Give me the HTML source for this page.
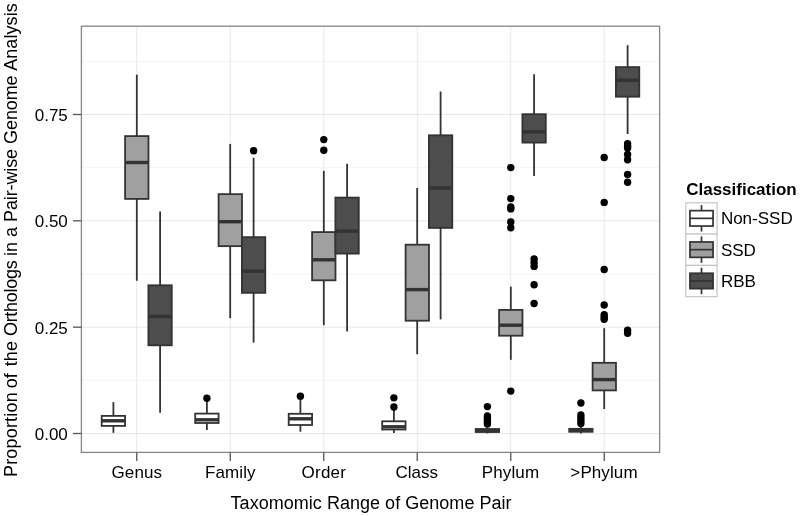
<!DOCTYPE html>
<html><head><meta charset="utf-8"><title>Boxplot</title>
<style>html,body{margin:0;padding:0;background:#fff;}svg{display:block;will-change:transform;}text{font-family:"Liberation Sans",sans-serif;fill:#000;}</style>
</head><body>
<svg width="800" height="516" viewBox="0 0 800 516">
<rect x="0" y="0" width="800" height="516" fill="#fff"/>
<g stroke="#F5F5F5" stroke-width="1" fill="none">
<line x1="81.4" x2="659.6" y1="380.33" y2="380.33"/>
<line x1="81.4" x2="659.6" y1="274.0" y2="274.0"/>
<line x1="81.4" x2="659.6" y1="167.67" y2="167.67"/>
<line x1="81.4" x2="659.6" y1="61.33" y2="61.33"/>
</g>
<g stroke="#E4E4E4" stroke-width="0.9" fill="none">
<line x1="81.4" x2="659.6" y1="433.5" y2="433.5"/>
<line x1="81.4" x2="659.6" y1="327.17" y2="327.17"/>
<line x1="81.4" x2="659.6" y1="220.83" y2="220.83"/>
<line x1="81.4" x2="659.6" y1="114.5" y2="114.5"/>
<line x1="136.75" x2="136.75" y1="26.2" y2="452.4"/>
<line x1="230.25" x2="230.25" y1="26.2" y2="452.4"/>
<line x1="323.75" x2="323.75" y1="26.2" y2="452.4"/>
<line x1="417.25" x2="417.25" y1="26.2" y2="452.4"/>
<line x1="510.75" x2="510.75" y1="26.2" y2="452.4"/>
<line x1="604.25" x2="604.25" y1="26.2" y2="452.4"/>
</g>
<g stroke="#333333" stroke-width="1.8">
<line x1="113.4" x2="113.4" y1="402.1" y2="415.9"/>
<line x1="113.4" x2="113.4" y1="425.9" y2="432.8"/>
<rect x="101.7" y="415.9" width="23.375" height="10.0" fill="#FFFFFF"/>
<line x1="101.7" x2="125.1" y1="420.8" y2="420.8" stroke-width="3.4"/>
</g>
<g stroke="#333333" stroke-width="1.8">
<line x1="136.8" x2="136.8" y1="74.6" y2="136.1"/>
<line x1="136.8" x2="136.8" y1="198.85" y2="280.8"/>
<rect x="125.1" y="136.1" width="23.375" height="62.8" fill="#A0A0A0"/>
<line x1="125.1" x2="148.4" y1="162.5" y2="162.5" stroke-width="3.4"/>
</g>
<g stroke="#333333" stroke-width="1.8">
<line x1="160.1" x2="160.1" y1="211.5" y2="285.3"/>
<line x1="160.1" x2="160.1" y1="345.3" y2="412.8"/>
<rect x="148.4" y="285.3" width="23.375" height="60.0" fill="#4D4D4D"/>
<line x1="148.4" x2="171.8" y1="316.4" y2="316.4" stroke-width="3.4"/>
</g>
<g stroke="#333333" stroke-width="1.8">
<line x1="206.9" x2="206.9" y1="401.0" y2="413.6"/>
<line x1="206.9" x2="206.9" y1="423.0" y2="429.9"/>
<rect x="195.2" y="413.6" width="23.375" height="9.4" fill="#FFFFFF"/>
<line x1="195.2" x2="218.6" y1="419.8" y2="419.8" stroke-width="3.4"/>
</g>
<g fill="#000" stroke="none">
<circle cx="206.9" cy="398.3" r="3.7"/>
</g>
<g stroke="#333333" stroke-width="1.8">
<line x1="230.2" x2="230.2" y1="143.9" y2="194.15"/>
<line x1="230.2" x2="230.2" y1="246.2" y2="318.1"/>
<rect x="218.6" y="194.15" width="23.375" height="52.0" fill="#A0A0A0"/>
<line x1="218.6" x2="241.9" y1="221.7" y2="221.7" stroke-width="3.4"/>
</g>
<g stroke="#333333" stroke-width="1.8">
<line x1="253.6" x2="253.6" y1="157.7" y2="237.15"/>
<line x1="253.6" x2="253.6" y1="292.85" y2="342.6"/>
<rect x="241.9" y="237.15" width="23.375" height="55.7" fill="#4D4D4D"/>
<line x1="241.9" x2="265.3" y1="271.2" y2="271.2" stroke-width="3.4"/>
</g>
<g fill="#000" stroke="none">
<circle cx="253.6" cy="150.7" r="3.7"/>
</g>
<g stroke="#333333" stroke-width="1.8">
<line x1="300.4" x2="300.4" y1="400.0" y2="413.8"/>
<line x1="300.4" x2="300.4" y1="425.0" y2="431.7"/>
<rect x="288.7" y="413.8" width="23.375" height="11.2" fill="#FFFFFF"/>
<line x1="288.7" x2="312.1" y1="418.8" y2="418.8" stroke-width="3.4"/>
</g>
<g fill="#000" stroke="none">
<circle cx="300.4" cy="396.3" r="3.7"/>
</g>
<g stroke="#333333" stroke-width="1.8">
<line x1="323.8" x2="323.8" y1="170.8" y2="232.1"/>
<line x1="323.8" x2="323.8" y1="280.3" y2="325.2"/>
<rect x="312.1" y="232.1" width="23.375" height="48.2" fill="#A0A0A0"/>
<line x1="312.1" x2="335.4" y1="259.8" y2="259.8" stroke-width="3.4"/>
</g>
<g fill="#000" stroke="none">
<circle cx="323.8" cy="139.6" r="3.7"/>
<circle cx="323.8" cy="150.2" r="3.7"/>
</g>
<g stroke="#333333" stroke-width="1.8">
<line x1="347.1" x2="347.1" y1="163.8" y2="197.6"/>
<line x1="347.1" x2="347.1" y1="253.6" y2="331.5"/>
<rect x="335.4" y="197.6" width="23.375" height="56.0" fill="#4D4D4D"/>
<line x1="335.4" x2="358.8" y1="231.1" y2="231.1" stroke-width="3.4"/>
</g>
<g stroke="#333333" stroke-width="1.8">
<line x1="393.9" x2="393.9" y1="409.0" y2="421.3"/>
<line x1="393.9" x2="393.9" y1="429.5" y2="432.9"/>
<rect x="382.2" y="421.3" width="23.375" height="8.2" fill="#FFFFFF"/>
<line x1="382.2" x2="405.6" y1="426.8" y2="426.8" stroke-width="3.4"/>
</g>
<g fill="#000" stroke="none">
<circle cx="393.9" cy="397.85" r="3.7"/>
<circle cx="393.9" cy="407.0" r="3.7"/>
</g>
<g stroke="#333333" stroke-width="1.8">
<line x1="417.2" x2="417.2" y1="188.0" y2="244.7"/>
<line x1="417.2" x2="417.2" y1="320.7" y2="354.2"/>
<rect x="405.6" y="244.7" width="23.375" height="76.0" fill="#A0A0A0"/>
<line x1="405.6" x2="428.9" y1="289.6" y2="289.6" stroke-width="3.4"/>
</g>
<g stroke="#333333" stroke-width="1.8">
<line x1="440.6" x2="440.6" y1="91.5" y2="135.3"/>
<line x1="440.6" x2="440.6" y1="227.9" y2="319.4"/>
<rect x="428.9" y="135.3" width="23.375" height="92.6" fill="#4D4D4D"/>
<line x1="428.9" x2="452.3" y1="188.0" y2="188.0" stroke-width="3.4"/>
</g>
<g stroke="#333333" stroke-width="1.8">
<line x1="487.4" x2="487.4" y1="424.0" y2="429.0"/>
<line x1="487.4" x2="487.4" y1="432.0" y2="433.4"/>
<rect x="475.7" y="429.0" width="23.375" height="3.0" fill="#FFFFFF"/>
<line x1="475.7" x2="499.1" y1="430.6" y2="430.6" stroke-width="3.4"/>
</g>
<g fill="#000" stroke="none">
<circle cx="487.4" cy="406.6" r="3.7"/>
<circle cx="487.4" cy="416.0" r="3.7"/>
<circle cx="487.4" cy="418.0" r="3.7"/>
<circle cx="487.4" cy="420.0" r="3.7"/>
<circle cx="487.4" cy="422.0" r="3.7"/>
<circle cx="487.4" cy="423.9" r="3.7"/>
</g>
<g stroke="#333333" stroke-width="1.8">
<line x1="510.8" x2="510.8" y1="286.6" y2="309.9"/>
<line x1="510.8" x2="510.8" y1="335.7" y2="359.85"/>
<rect x="499.1" y="309.9" width="23.375" height="25.8" fill="#A0A0A0"/>
<line x1="499.1" x2="522.4" y1="325.2" y2="325.2" stroke-width="3.4"/>
</g>
<g fill="#000" stroke="none">
<circle cx="510.8" cy="167.6" r="3.7"/>
<circle cx="510.8" cy="198.6" r="3.7"/>
<circle cx="510.8" cy="206.9" r="3.7"/>
<circle cx="510.8" cy="208.9" r="3.7"/>
<circle cx="510.8" cy="222.0" r="3.7"/>
<circle cx="510.8" cy="227.8" r="3.7"/>
<circle cx="510.8" cy="391.1" r="3.7"/>
</g>
<g stroke="#333333" stroke-width="1.8">
<line x1="534.1" x2="534.1" y1="74.2" y2="114.2"/>
<line x1="534.1" x2="534.1" y1="142.6" y2="176.1"/>
<rect x="522.4" y="114.2" width="23.375" height="28.4" fill="#4D4D4D"/>
<line x1="522.4" x2="545.8" y1="131.8" y2="131.8" stroke-width="3.4"/>
</g>
<g fill="#000" stroke="none">
<circle cx="534.1" cy="258.9" r="3.7"/>
<circle cx="534.1" cy="262.7" r="3.7"/>
<circle cx="534.1" cy="266.4" r="3.7"/>
<circle cx="534.1" cy="284.8" r="3.7"/>
<circle cx="534.1" cy="303.5" r="3.7"/>
</g>
<g stroke="#333333" stroke-width="1.8">
<line x1="580.9" x2="580.9" y1="424.0" y2="428.85"/>
<line x1="580.9" x2="580.9" y1="431.8" y2="433.4"/>
<rect x="569.2" y="428.85" width="23.375" height="2.9" fill="#FFFFFF"/>
<line x1="569.2" x2="592.6" y1="430.4" y2="430.4" stroke-width="3.4"/>
</g>
<g fill="#000" stroke="none">
<circle cx="580.9" cy="403.0" r="3.7"/>
<circle cx="580.9" cy="414.9" r="3.7"/>
<circle cx="580.9" cy="417.8" r="3.7"/>
<circle cx="580.9" cy="420.7" r="3.7"/>
<circle cx="580.9" cy="423.5" r="3.7"/>
</g>
<g stroke="#333333" stroke-width="1.8">
<line x1="604.2" x2="604.2" y1="328.2" y2="362.8"/>
<line x1="604.2" x2="604.2" y1="390.4" y2="409.0"/>
<rect x="592.6" y="362.8" width="23.375" height="27.6" fill="#A0A0A0"/>
<line x1="592.6" x2="615.9" y1="379.6" y2="379.6" stroke-width="3.4"/>
</g>
<g fill="#000" stroke="none">
<circle cx="604.2" cy="157.5" r="3.7"/>
<circle cx="604.2" cy="202.4" r="3.7"/>
<circle cx="604.2" cy="269.5" r="3.7"/>
<circle cx="604.2" cy="305.0" r="3.7"/>
<circle cx="604.2" cy="314.8" r="3.7"/>
<circle cx="604.2" cy="317.3" r="3.7"/>
<circle cx="604.2" cy="319.3" r="3.7"/>
</g>
<g stroke="#333333" stroke-width="1.8">
<line x1="627.6" x2="627.6" y1="45.2" y2="67.1"/>
<line x1="627.6" x2="627.6" y1="96.7" y2="134.0"/>
<rect x="615.9" y="67.1" width="23.375" height="29.6" fill="#4D4D4D"/>
<line x1="615.9" x2="639.3" y1="80.25" y2="80.25" stroke-width="3.4"/>
</g>
<g fill="#000" stroke="none">
<circle cx="627.6" cy="143.7" r="3.7"/>
<circle cx="627.6" cy="146.3" r="3.7"/>
<circle cx="627.6" cy="148.0" r="3.7"/>
<circle cx="627.6" cy="154.4" r="3.7"/>
<circle cx="627.6" cy="159.7" r="3.7"/>
<circle cx="627.6" cy="174.5" r="3.7"/>
<circle cx="627.6" cy="182.3" r="3.7"/>
<circle cx="627.6" cy="330.2" r="3.7"/>
<circle cx="627.6" cy="333.2" r="3.7"/>
</g>
<rect x="81.4" y="26.2" width="578.2" height="426.2" fill="none" stroke="#858585" stroke-width="1.3"/>
<g stroke="#555555" stroke-width="1.3">
<line x1="72.9" x2="81.4" y1="433.5" y2="433.5"/>
<line x1="72.9" x2="81.4" y1="327.17" y2="327.17"/>
<line x1="72.9" x2="81.4" y1="220.83" y2="220.83"/>
<line x1="72.9" x2="81.4" y1="114.5" y2="114.5"/>
<line x1="136.75" x2="136.75" y1="452.4" y2="461.0"/>
<line x1="230.25" x2="230.25" y1="452.4" y2="461.0"/>
<line x1="323.75" x2="323.75" y1="452.4" y2="461.0"/>
<line x1="417.25" x2="417.25" y1="452.4" y2="461.0"/>
<line x1="510.75" x2="510.75" y1="452.4" y2="461.0"/>
<line x1="604.25" x2="604.25" y1="452.4" y2="461.0"/>
</g>
<g font-size="17px" text-anchor="end">
<text x="67.8" y="439.9">0.00</text>
<text x="67.8" y="333.6">0.25</text>
<text x="67.8" y="227.2">0.50</text>
<text x="67.8" y="120.9">0.75</text>
</g>
<g font-size="17px">
<text x="111.60" y="477.6" textLength="50.30" lengthAdjust="spacing">Genus</text>
<text x="204.95" y="477.6" textLength="50.60" lengthAdjust="spacing">Family</text>
<text x="301.60" y="477.6" textLength="44.30" lengthAdjust="spacing">Order</text>
<text x="395.40" y="477.6" textLength="42.50" lengthAdjust="spacing">Class</text>
<text x="481.80" y="477.6" textLength="57.30" lengthAdjust="spacing">Phylum</text>
<text x="570.35" y="477.6" textLength="67.20" lengthAdjust="spacing">&gt;Phylum</text>
</g>
<text x="230.6" y="508.6" font-size="18px" textLength="280.95" lengthAdjust="spacing">Taxomomic Range of Genome Pair</text>
<g transform="translate(16.8,0) rotate(-90)" font-size="18px">
<text x="-477.00" y="0" textLength="84.70" lengthAdjust="spacing">Proportion</text>
<text x="-388.35" y="0" textLength="15.05" lengthAdjust="spacing">of</text>
<text x="-366.15" y="0" textLength="25.05" lengthAdjust="spacing">the</text>
<text x="-336.10" y="0" textLength="75.80" lengthAdjust="spacing">Orthologs</text>
<text x="-255.95" y="0" textLength="14.00" lengthAdjust="spacing">in</text>
<text x="-236.95" y="0" textLength="10.05" lengthAdjust="spacing">a</text>
<text x="-221.90" y="0" textLength="73.00" lengthAdjust="spacing">Pair-wise</text>
<text x="-143.90" y="0" textLength="68.50" lengthAdjust="spacing">Genome</text>
<text x="-70.80" y="0" textLength="67.50" lengthAdjust="spacing">Analysis</text>
</g>
<text x="686.2" y="194.6" font-size="17px" font-weight="bold">Classification</text>
<rect x="685.8" y="202.8" width="31.25" height="31.3" fill="#fff" stroke="#C6C6C6" stroke-width="1.2"/>
<g stroke="#333333" stroke-width="1.7">
<line x1="701.5" x2="701.5" y1="205.15" y2="210.65"/>
<line x1="701.5" x2="701.5" y1="226.05" y2="231.55"/>
<rect x="689.95" y="210.65" width="23.1" height="15.4" fill="#FFFFFF"/>
<line x1="689.95" x2="713.05" y1="218.35" y2="218.35"/>
</g>
<text x="720.9" y="224.4" font-size="17px">Non-SSD</text>
<rect x="685.8" y="234.1" width="31.25" height="31.3" fill="#fff" stroke="#C6C6C6" stroke-width="1.2"/>
<g stroke="#333333" stroke-width="1.7">
<line x1="701.5" x2="701.5" y1="236.45" y2="241.95"/>
<line x1="701.5" x2="701.5" y1="257.35" y2="262.85"/>
<rect x="689.95" y="241.95" width="23.1" height="15.4" fill="#A0A0A0"/>
<line x1="689.95" x2="713.05" y1="249.65" y2="249.65"/>
</g>
<text x="720.9" y="255.7" font-size="17px">SSD</text>
<rect x="685.8" y="265.4" width="31.25" height="31.3" fill="#fff" stroke="#C6C6C6" stroke-width="1.2"/>
<g stroke="#333333" stroke-width="1.7">
<line x1="701.5" x2="701.5" y1="267.75" y2="273.25"/>
<line x1="701.5" x2="701.5" y1="288.65" y2="294.15"/>
<rect x="689.95" y="273.25" width="23.1" height="15.4" fill="#4D4D4D"/>
<line x1="689.95" x2="713.05" y1="280.95" y2="280.95"/>
</g>
<text x="720.9" y="286.9" font-size="17px">RBB</text>
</svg>
</body></html>
